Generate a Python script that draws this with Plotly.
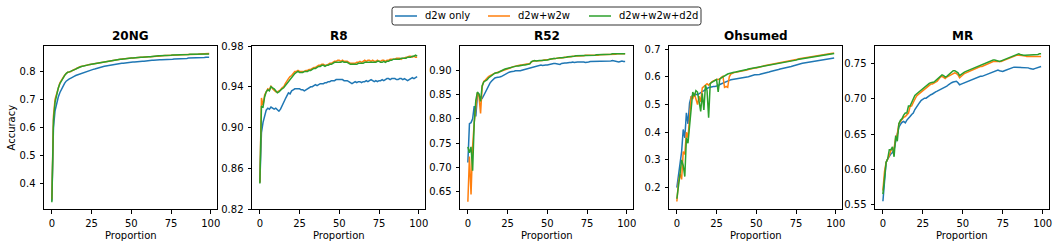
import plotly.graph_objects as go
from plotly.subplots import make_subplots

# ---------------- data ----------------
PROPORTION = list(range(100))
SERIES_NAMES = ["d2w only", "d2w+w2w", "d2w+w2w+d2d"]
TITLES = ["20NG", "R8", "R52", "Ohsumed", "MR"]
X_TICKS = [0, 25, 50, 75, 100]

NG_D2W = [0.340,0.600,0.660,0.688,0.708,0.724,0.737,0.748,0.757,0.765,
0.770,0.773,0.776,0.778,0.782,0.785,0.787,0.789,0.792,0.795,
0.797,0.798,0.800,0.801,0.803,0.805,0.807,0.808,0.810,0.811,
0.812,0.814,0.816,0.818,0.819,0.820,0.821,0.823,0.825,0.826,
0.826,0.827,0.828,0.828,0.829,0.829,0.830,0.831,0.832,0.832,
0.832,0.833,0.833,0.834,0.834,0.835,0.835,0.836,0.836,0.837,
0.837,0.838,0.838,0.839,0.839,0.840,0.840,0.840,0.841,0.841,
0.841,0.842,0.842,0.842,0.843,0.843,0.843,0.844,0.844,0.844,
0.845,0.845,0.845,0.846,0.846,0.846,0.847,0.847,0.847,0.847,
0.848,0.848,0.848,0.848,0.849,0.849,0.849,0.850,0.849,0.850]
NG_W2W = [0.345,0.640,0.700,0.722,0.742,0.758,0.768,0.778,0.786,0.792,
0.797,0.798,0.799,0.803,0.806,0.809,0.812,0.815,0.817,0.818,
0.820,0.821,0.822,0.823,0.824,0.825,0.826,0.827,0.828,0.829,
0.831,0.832,0.833,0.835,0.836,0.837,0.838,0.839,0.840,0.840,
0.841,0.842,0.843,0.843,0.844,0.845,0.845,0.846,0.846,0.846,
0.847,0.847,0.848,0.848,0.849,0.849,0.850,0.850,0.851,0.851,
0.851,0.852,0.852,0.853,0.853,0.853,0.854,0.854,0.855,0.855,
0.855,0.856,0.856,0.856,0.857,0.857,0.857,0.858,0.858,0.858,
0.858,0.859,0.859,0.859,0.859,0.860,0.860,0.860,0.860,0.861,
0.861,0.861,0.861,0.862,0.862,0.862,0.862,0.863,0.863,0.863]
NG_D2D = [0.335,0.625,0.690,0.720,0.740,0.756,0.767,0.777,0.785,0.792,
0.797,0.798,0.800,0.803,0.806,0.808,0.811,0.814,0.816,0.818,
0.819,0.821,0.822,0.823,0.824,0.825,0.826,0.827,0.828,0.829,
0.830,0.832,0.833,0.834,0.836,0.837,0.838,0.839,0.839,0.840,
0.841,0.841,0.842,0.843,0.843,0.844,0.845,0.845,0.846,0.846,
0.847,0.847,0.848,0.848,0.849,0.849,0.850,0.850,0.851,0.851,
0.851,0.852,0.852,0.853,0.853,0.854,0.854,0.855,0.855,0.855,
0.856,0.856,0.856,0.857,0.857,0.857,0.858,0.858,0.858,0.859,
0.859,0.859,0.859,0.860,0.860,0.860,0.860,0.861,0.861,0.861,
0.861,0.862,0.862,0.862,0.862,0.863,0.862,0.863,0.863,0.862]

R8_D2W = [0.846,0.895,0.905,0.912,0.917,0.919,0.918,0.920,0.919,0.918,
0.919,0.917,0.916,0.918,0.922,0.925,0.928,0.931,0.934,0.933,
0.936,0.937,0.938,0.938,0.938,0.938,0.937,0.937,0.936,0.937,
0.938,0.939,0.940,0.940,0.941,0.942,0.941,0.942,0.943,0.943,
0.943,0.944,0.944,0.945,0.945,0.946,0.946,0.946,0.947,0.947,
0.947,0.947,0.947,0.946,0.946,0.946,0.945,0.944,0.943,0.944,
0.945,0.944,0.945,0.945,0.944,0.945,0.945,0.946,0.945,0.946,
0.947,0.946,0.945,0.946,0.945,0.946,0.946,0.947,0.946,0.947,
0.948,0.948,0.947,0.948,0.948,0.948,0.947,0.947,0.948,0.948,
0.947,0.948,0.947,0.946,0.947,0.948,0.949,0.948,0.949,0.950]
R8_W2W = [0.846,0.929,0.922,0.932,0.935,0.938,0.937,0.941,0.938,0.936,
0.935,0.935,0.936,0.937,0.939,0.940,0.943,0.946,0.948,0.950,
0.951,0.953,0.955,0.955,0.956,0.955,0.955,0.955,0.955,0.956,
0.956,0.957,0.957,0.958,0.959,0.959,0.960,0.961,0.961,0.962,
0.962,0.961,0.961,0.962,0.963,0.963,0.964,0.965,0.965,0.966,
0.966,0.965,0.966,0.965,0.965,0.965,0.964,0.963,0.963,0.963,
0.963,0.964,0.964,0.965,0.964,0.965,0.966,0.965,0.966,0.966,
0.965,0.966,0.965,0.965,0.966,0.965,0.965,0.966,0.966,0.965,
0.966,0.966,0.967,0.967,0.967,0.967,0.968,0.968,0.968,0.967,
0.968,0.968,0.969,0.969,0.970,0.970,0.969,0.970,0.969,0.969]
R8_D2D = [0.845,0.921,0.920,0.930,0.935,0.937,0.936,0.940,0.939,0.938,
0.936,0.934,0.935,0.937,0.938,0.939,0.941,0.944,0.946,0.948,
0.950,0.951,0.953,0.954,0.955,0.954,0.954,0.954,0.955,0.955,
0.955,0.956,0.956,0.957,0.958,0.958,0.959,0.960,0.960,0.961,
0.961,0.960,0.961,0.961,0.962,0.962,0.963,0.964,0.964,0.964,
0.964,0.964,0.965,0.964,0.964,0.964,0.963,0.962,0.962,0.962,
0.962,0.962,0.963,0.963,0.963,0.963,0.964,0.964,0.964,0.964,
0.964,0.964,0.964,0.964,0.965,0.965,0.964,0.964,0.965,0.964,
0.965,0.965,0.966,0.966,0.967,0.967,0.967,0.967,0.967,0.968,
0.968,0.968,0.968,0.969,0.969,0.969,0.970,0.970,0.971,0.970]

R52_D2W = [0.710,0.790,0.792,0.800,0.826,0.805,0.847,0.850,0.840,0.842,
0.848,0.855,0.862,0.868,0.874,0.878,0.882,0.884,0.885,0.885,
0.886,0.887,0.889,0.890,0.892,0.894,0.896,0.897,0.897,0.898,
0.899,0.899,0.898,0.899,0.900,0.901,0.902,0.902,0.904,0.905,
0.906,0.907,0.908,0.909,0.910,0.910,0.911,0.910,0.911,0.911,
0.911,0.912,0.913,0.913,0.914,0.914,0.913,0.912,0.912,0.914,
0.915,0.915,0.915,0.916,0.916,0.916,0.917,0.916,0.917,0.917,
0.917,0.917,0.918,0.917,0.916,0.916,0.917,0.918,0.918,0.918,
0.918,0.919,0.918,0.918,0.919,0.918,0.919,0.919,0.919,0.919,
0.919,0.920,0.919,0.918,0.917,0.917,0.918,0.919,0.918,0.918]
R52_W2W = [0.629,0.722,0.644,0.744,0.792,0.830,0.854,0.847,0.811,0.866,
0.877,0.880,0.884,0.887,0.889,0.891,0.893,0.894,0.895,0.896,
0.897,0.898,0.900,0.901,0.902,0.903,0.904,0.905,0.907,0.908,
0.909,0.910,0.910,0.911,0.911,0.912,0.912,0.913,0.913,0.914,
0.917,0.919,0.919,0.919,0.920,0.920,0.920,0.920,0.921,0.921,
0.921,0.922,0.923,0.923,0.924,0.924,0.925,0.925,0.926,0.926,
0.926,0.927,0.927,0.927,0.928,0.928,0.929,0.929,0.930,0.930,
0.930,0.930,0.930,0.930,0.931,0.931,0.931,0.931,0.930,0.930,
0.931,0.931,0.931,0.932,0.932,0.932,0.932,0.932,0.932,0.933,
0.933,0.933,0.933,0.933,0.934,0.934,0.933,0.934,0.934,0.934]
R52_D2D = [0.742,0.730,0.742,0.693,0.792,0.838,0.855,0.851,0.836,0.868,
0.876,0.878,0.880,0.884,0.887,0.890,0.892,0.894,0.895,0.895,
0.897,0.899,0.901,0.902,0.903,0.904,0.905,0.906,0.906,0.907,
0.908,0.909,0.909,0.910,0.910,0.911,0.911,0.912,0.912,0.913,
0.918,0.919,0.920,0.919,0.920,0.920,0.920,0.920,0.921,0.921,
0.921,0.922,0.923,0.923,0.924,0.924,0.925,0.925,0.926,0.926,
0.926,0.927,0.927,0.928,0.928,0.928,0.929,0.929,0.930,0.930,
0.930,0.931,0.931,0.931,0.931,0.931,0.931,0.931,0.931,0.931,
0.931,0.932,0.932,0.932,0.932,0.932,0.933,0.933,0.933,0.933,
0.933,0.934,0.934,0.934,0.934,0.935,0.935,0.935,0.935,0.934]

OH_D2W = [0.200,0.250,0.300,0.330,0.410,0.380,0.470,0.430,0.505,0.528,
0.532,0.535,0.537,0.535,0.538,0.542,0.546,0.550,0.554,0.558,
0.561,0.562,0.564,0.565,0.565,0.566,0.568,0.572,0.575,0.578,
0.580,0.583,0.585,0.587,0.589,0.590,0.590,0.591,0.591,0.592,
0.593,0.594,0.595,0.597,0.599,0.600,0.602,0.604,0.606,0.607,
0.607,0.607,0.608,0.610,0.611,0.612,0.614,0.615,0.617,0.619,
0.620,0.621,0.622,0.624,0.626,0.628,0.629,0.630,0.632,0.634,
0.635,0.636,0.637,0.639,0.641,0.642,0.644,0.646,0.647,0.649,
0.650,0.651,0.652,0.653,0.654,0.655,0.656,0.657,0.658,0.659,
0.660,0.661,0.662,0.663,0.664,0.665,0.666,0.667,0.667,0.668]
OH_W2W = [0.150,0.220,0.250,0.230,0.330,0.320,0.400,0.380,0.450,0.530,
0.520,0.540,0.520,0.500,0.530,0.510,0.560,0.565,0.570,0.575,
0.570,0.578,0.582,0.585,0.588,0.590,0.590,0.592,0.598,0.602,
0.562,0.565,0.562,0.600,0.610,0.614,0.615,0.616,0.617,0.618,
0.618,0.619,0.620,0.622,0.624,0.626,0.628,0.630,0.631,0.632,
0.632,0.633,0.635,0.637,0.638,0.640,0.641,0.642,0.643,0.644,
0.645,0.646,0.647,0.648,0.649,0.650,0.651,0.652,0.654,0.655,
0.656,0.657,0.658,0.659,0.661,0.662,0.663,0.665,0.666,0.667,
0.668,0.669,0.670,0.671,0.672,0.673,0.674,0.675,0.677,0.678,
0.679,0.680,0.680,0.681,0.682,0.682,0.683,0.684,0.685,0.685]
OH_D2D = [0.160,0.200,0.250,0.300,0.280,0.240,0.380,0.360,0.420,0.500,
0.545,0.530,0.550,0.545,0.500,0.475,0.540,0.480,0.570,0.550,
0.452,0.575,0.580,0.583,0.586,0.590,0.545,0.592,0.596,0.600,
0.604,0.607,0.610,0.612,0.614,0.615,0.616,0.617,0.618,0.619,
0.620,0.621,0.622,0.624,0.626,0.628,0.629,0.630,0.631,0.632,
0.633,0.634,0.636,0.637,0.639,0.640,0.641,0.642,0.643,0.644,
0.645,0.646,0.647,0.648,0.649,0.650,0.651,0.652,0.653,0.654,
0.655,0.656,0.657,0.658,0.659,0.660,0.662,0.663,0.665,0.666,
0.667,0.668,0.669,0.670,0.671,0.672,0.673,0.674,0.675,0.676,
0.677,0.678,0.679,0.679,0.680,0.680,0.681,0.682,0.683,0.684]

MR_D2W = [0.555,0.585,0.610,0.615,0.619,0.622,0.624,0.628,0.640,0.652,
0.660,0.664,0.667,0.668,0.666,0.670,0.672,0.675,0.678,0.680,
0.685,0.689,0.692,0.695,0.698,0.700,0.701,0.701,0.703,0.705,
0.706,0.707,0.709,0.710,0.711,0.712,0.714,0.715,0.716,0.717,
0.718,0.720,0.722,0.723,0.724,0.724,0.725,0.723,0.720,0.721,
0.722,0.723,0.724,0.725,0.726,0.727,0.728,0.728,0.729,0.730,
0.731,0.732,0.732,0.733,0.734,0.735,0.736,0.737,0.738,0.739,
0.740,0.741,0.741,0.740,0.739,0.739,0.740,0.741,0.742,0.743,
0.744,0.744,0.745,0.745,0.745,0.745,0.745,0.744,0.745,0.744,
0.744,0.744,0.743,0.742,0.742,0.743,0.744,0.745,0.745,0.746]
MR_W2W = [0.570,0.597,0.610,0.614,0.620,0.627,0.628,0.630,0.645,0.650,
0.665,0.668,0.670,0.674,0.675,0.678,0.680,0.689,0.690,0.695,
0.701,0.704,0.706,0.708,0.710,0.712,0.714,0.716,0.718,0.720,
0.721,0.721,0.722,0.723,0.725,0.728,0.731,0.732,0.731,0.729,
0.731,0.732,0.733,0.734,0.736,0.737,0.736,0.734,0.730,0.732,
0.735,0.736,0.737,0.738,0.740,0.741,0.742,0.742,0.743,0.744,
0.745,0.746,0.746,0.747,0.749,0.750,0.751,0.752,0.753,0.753,
0.753,0.753,0.752,0.752,0.753,0.754,0.755,0.756,0.757,0.758,
0.758,0.759,0.760,0.761,0.762,0.762,0.762,0.761,0.761,0.761,
0.760,0.760,0.760,0.761,0.761,0.761,0.761,0.761,0.760,0.760]
MR_D2D = [0.565,0.592,0.610,0.615,0.628,0.628,0.632,0.618,0.648,0.640,
0.665,0.670,0.672,0.677,0.680,0.680,0.690,0.690,0.695,0.700,
0.705,0.707,0.709,0.711,0.713,0.715,0.717,0.719,0.721,0.722,
0.723,0.723,0.724,0.726,0.728,0.730,0.733,0.734,0.733,0.731,
0.732,0.734,0.736,0.738,0.740,0.740,0.739,0.737,0.733,0.735,
0.737,0.738,0.739,0.740,0.741,0.742,0.743,0.744,0.745,0.746,
0.747,0.748,0.748,0.749,0.750,0.751,0.752,0.753,0.754,0.755,
0.755,0.754,0.753,0.753,0.754,0.755,0.756,0.757,0.758,0.759,
0.760,0.761,0.762,0.763,0.764,0.764,0.763,0.762,0.762,0.762,
0.762,0.762,0.762,0.762,0.762,0.762,0.763,0.763,0.764,0.764]

PANELS = [
    (NG_D2W, NG_W2W, NG_D2D),
    (R8_D2W, R8_W2W, R8_D2D),
    (R52_D2W, R52_W2W, R52_D2D),
    (OH_D2W, OH_W2W, OH_D2D),
    (MR_D2W, MR_W2W, MR_D2D),
]
Y_TICKS = [
    [0.4, 0.5, 0.6, 0.7, 0.8],
    [0.82, 0.86, 0.90, 0.94, 0.98],
    [0.65, 0.70, 0.75, 0.80, 0.85, 0.90],
    [0.2, 0.3, 0.4, 0.5, 0.6, 0.7],
    [0.55, 0.60, 0.65, 0.70, 0.75],
]

# ---------------- styling ----------------
W, H = 1059, 247
COLORS = ["#1f77b4", "#ff7f0e", "#2ca02c"]
FONT = "DejaVu Sans"
Y_RANGES = [[0.311, 0.890], [0.82, 0.98], [0.614, 0.950], [0.123, 0.711], [0.544, 0.775]]
Y_FMT = [".1f", ".2f", ".2f", ".1f", ".2f"]
X_DOMAINS_PX = [(44, 217), (252, 425), (460, 633), (669, 842), (875, 1049)]
Y_DOMAIN = [1 - 209 / H, 1 - 46 / H]
# legend layout (pixels): box, handle starts, text starts
LEG_BOX = (392, 7, 701, 25)
LEG_HANDLE_X = [395, 488, 589]
LEG_TEXT_X = [423, 516, 617]
LEG_Y = 16


def px(x):
    return x / W


def py(y):
    return 1 - y / H


fig = make_subplots(rows=1, cols=5)

for p, series in enumerate(PANELS):
    for s, vals in enumerate(series):
        fig.add_trace(
            go.Scatter(
                x=PROPORTION, y=vals, mode="lines", name=SERIES_NAMES[s],
                line=dict(color=COLORS[s], width=1.5),
                showlegend=False, legendgroup=SERIES_NAMES[s],
            ),
            row=1, col=p + 1,
        )

annotations = []
shapes = []
for p in range(5):
    x0, x1 = X_DOMAINS_PX[p]
    sfx = "" if p == 0 else str(p + 1)
    fig.layout["xaxis" + sfx].update(
        domain=[px(x0), px(x1)], range=[-4.95, 103.95],
        tickvals=X_TICKS, ticks="outside", ticklen=3.5, tickwidth=1,
        tickcolor="black", showline=True, linecolor="black", linewidth=1,
        mirror=True, showgrid=False, zeroline=False, automargin=False,
        ticklabelstandoff=1,
        tickfont=dict(family=FONT, size=10, color="black"),
    )
    fig.layout["yaxis" + sfx].update(
        domain=Y_DOMAIN, range=Y_RANGES[p], tickvals=Y_TICKS[p],
        tickformat=Y_FMT[p], ticks="outside", ticklen=3.5, tickwidth=1,
        tickcolor="black", showline=True, linecolor="black", linewidth=1,
        mirror=True, showgrid=False, zeroline=False, automargin=False,
        ticklabelstandoff=2,
        tickfont=dict(family=FONT, size=10, color="black"),
    )
    cx = px((x0 + x1) / 2)
    annotations.append(dict(
        text="<b>" + TITLES[p] + "</b>", x=cx, y=py(36), xref="paper", yref="paper",
        xanchor="center", yanchor="middle", showarrow=False,
        font=dict(family=FONT, size=12, color="black"),
    ))
    annotations.append(dict(
        text="Proportion", x=cx, y=py(235), xref="paper", yref="paper",
        xanchor="center", yanchor="middle", showarrow=False,
        font=dict(family=FONT, size=10, color="black"),
    ))

annotations.append(dict(
    text="Accuracy", x=px(11), y=py(127.5), xref="paper", yref="paper",
    xanchor="center", yanchor="middle", showarrow=False, textangle=-90,
    font=dict(family=FONT, size=10, color="black"),
))

# legend drawn by hand (matplotlib style: short handles, rounded box)
bx0, by0, bx1, by1 = LEG_BOX
r = 2.5
path = (
    f"M {px(bx0 + r)} {py(by0)} L {px(bx1 - r)} {py(by0)} "
    f"Q {px(bx1)} {py(by0)} {px(bx1)} {py(by0 + r)} "
    f"L {px(bx1)} {py(by1 - r)} Q {px(bx1)} {py(by1)} {px(bx1 - r)} {py(by1)} "
    f"L {px(bx0 + r)} {py(by1)} Q {px(bx0)} {py(by1)} {px(bx0)} {py(by1 - r)} "
    f"L {px(bx0)} {py(by0 + r)} Q {px(bx0)} {py(by0)} {px(bx0 + r)} {py(by0)} Z"
)
shapes.append(dict(type="path", path=path, xref="paper", yref="paper",
                   line=dict(color="#333333", width=1), fillcolor="white",
                   layer="above"))
for s in range(3):
    shapes.append(dict(
        type="line", xref="paper", yref="paper",
        x0=px(LEG_HANDLE_X[s]), x1=px(LEG_HANDLE_X[s] + 22),
        y0=py(LEG_Y), y1=py(LEG_Y),
        line=dict(color=COLORS[s], width=1.5), layer="above",
    ))
    annotations.append(dict(
        text=SERIES_NAMES[s], x=px(LEG_TEXT_X[s]), y=py(LEG_Y),
        xref="paper", yref="paper", xanchor="left", yanchor="middle",
        showarrow=False, font=dict(family=FONT, size=10, color="black"),
    ))

fig.update_layout(
    width=W, height=H,
    margin=dict(l=0, r=0, t=0, b=0, pad=0),
    paper_bgcolor="white", plot_bgcolor="white",
    font=dict(family=FONT, size=10, color="black"),
    annotations=annotations, shapes=shapes,
    showlegend=False,
)

fig.write_html(
    "out.html",
    config={"displayModeBar": False},
    post_script="document.body.style.margin='0px';document.body.style.overflow='hidden';",
)
